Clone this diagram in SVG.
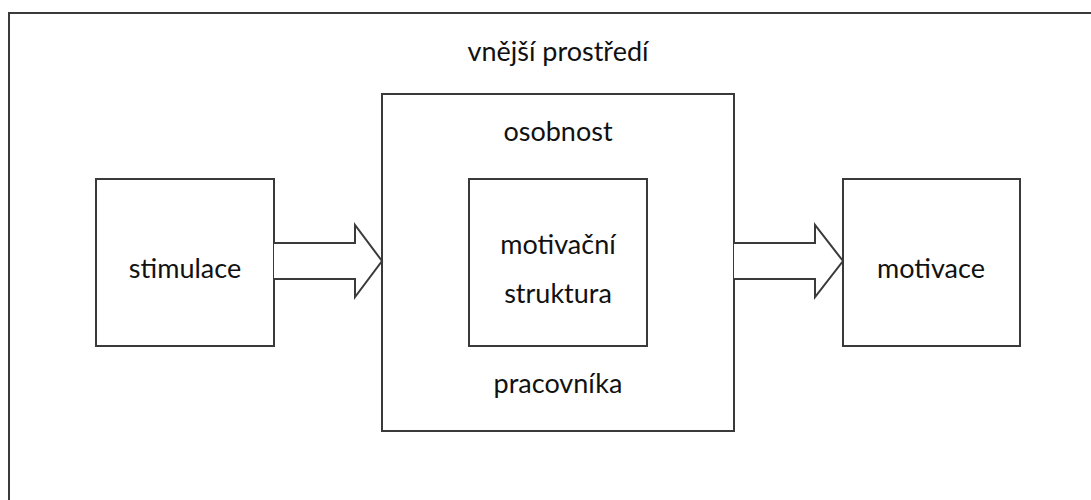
<svg xmlns="http://www.w3.org/2000/svg" width="1091" height="500" viewBox="0 0 1091 500">
<style>
.box{fill:#fff;stroke:#3a3a3a;stroke-width:2}
.arrow{fill:#fff;stroke:#3a3a3a;stroke-width:2;stroke-linejoin:miter}
text{font-family:Lato,"Open Sans",sans-serif;font-size:27px;fill:#111;text-anchor:middle}
</style>
<rect width="1091" height="500" fill="#fff"/>
<g id="outer"><rect class="box" x="9" y="13" width="1100" height="520"/><text x="558" y="61">vnější prostředí</text></g>
<g id="osobnost"><rect class="box" x="382" y="94" width="352" height="337"/><text x="558" y="141">osobnost</text><text x="558" y="393">pracovníka</text></g>
<g id="motivacni"><rect class="box" x="469" y="179" width="178" height="167"/><text x="558" y="254">motivační</text><text x="558" y="303">struktura</text></g>
<g id="stimulace"><rect class="box" x="96" y="179" width="178" height="167"/><text x="185" y="278">stimulace</text></g>
<g id="motivace"><rect class="box" x="843" y="179" width="177" height="167"/><text x="931" y="278">motivace</text></g>
<g id="connectors">
<path class="arrow" d="M274,243 H355 V225 L382,261 L355,297 V279 H274"/>
<path class="arrow" d="M734,243 H815 V225 L843,261 L815,297 V279 H734"/>
</g>
</svg>
